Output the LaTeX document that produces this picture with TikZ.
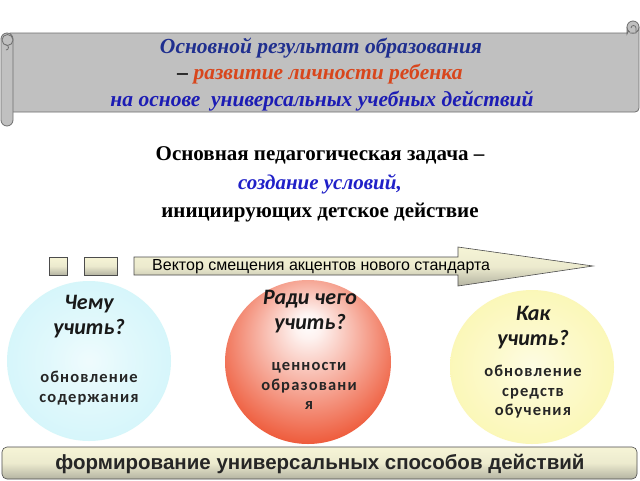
\documentclass[tikz,border=0pt]{standalone}
\usepackage{fontspec}
\setmainfont{Liberation Serif}
\setsansfont{Liberation Sans}
\newfontfamily\carl{Carlito}
\newfontfamily\carlsp[LetterSpace=7]{Carlito}
\usetikzlibrary{shapes.geometric}
\definecolor{scrollgray}{HTML}{C0C0C0}
\definecolor{scrollline}{HTML}{6E6E6E}
\definecolor{titleblue}{HTML}{1F2F8F}
\definecolor{titlered}{HTML}{D8461C}
\definecolor{titleblue2}{HTML}{1C1CB4}
\definecolor{taskblue}{HTML}{2020C8}
\definecolor{beigetop}{HTML}{F6F4D6}
\definecolor{beigebot}{HTML}{B4B4A2}
\definecolor{cyanedge}{HTML}{C9F3F9}
\definecolor{rededge}{HTML}{EE5A3A}
\definecolor{yellowedge}{HTML}{FAF5A2}
\pgfdeclareradialshading{cyanball}{\pgfpoint{0bp}{0bp}}{color(0bp)=(white!70!cyanedge); color(12bp)=(white!45!cyanedge); color(40bp)=(cyanedge); color(50bp)=(cyanedge)}
\pgfdeclareradialshading{redball}{\pgfpoint{0bp}{12bp}}{color(0bp)=(white); color(4bp)=(white!92!rededge); color(30bp)=(rededge); color(50bp)=(rededge!95!black)}
\pgfdeclareradialshading{yellowball}{\pgfpoint{0bp}{0bp}}{color(0bp)=(white!70!yellowedge); color(12bp)=(white!45!yellowedge); color(40bp)=(yellowedge); color(50bp)=(yellowedge)}
\tikzset{
  scrollpart/.style={fill=scrollgray, draw=scrollline, line width=0.8pt},
  beigebox/.style={draw=black!70, line width=0.6pt, top color=beigetop, bottom color=beigebot, middle color=beigetop!85!beigebot},
  titletext/.style={font=\bfseries\itshape\fontsize{21.5}{24}\selectfont, inner sep=0pt},
  tasktext/.style={font=\bfseries\fontsize{21}{24}\selectfont, inner sep=0pt},
  qtext/.style={font=\carl\bfseries\itshape\fontsize{22}{25}\selectfont, align=center, inner sep=0pt, text=black!90},
  atext/.style={font=\carlsp\bfseries\fontsize{16.5}{19.5}\selectfont, align=center, inner sep=0pt, text=black!85},
}
\begin{document}
\begin{tikzpicture}[x=1pt,y=-1pt]
\useasboundingbox[fill=white] (0,0) rectangle (640,480);
% scroll
\draw[scrollpart] (10,33) -- (627,33) arc[start angle=180, end angle=270, radius=1] -- (627,34)
  -- (627,27) arc[start angle=180, end angle=0, radius=6] -- (639,108) arc[start angle=0, end angle=90, radius=4] -- (10,112) -- cycle;
\draw[scrollpart] (633,27) circle (6);
\draw[scrollpart] (630,33) -- (636,33) -- (636,28) arc[start angle=0, end angle=-180, radius=2.5];
\draw[scrollpart, rounded corners=6pt] (1,33) rectangle (13,126);
\draw[scrollpart] (7.5,40) circle (5.5);
\draw[scrollpart] (6,45) arc[start angle=-90, end angle=90, radius=2.5];
\node[titletext, text=titleblue] (t1) at (321,48) {Основной результат образования};
\node[titletext] (t2) at (320,74) {– \textcolor{titlered}{развитие личности ребенка}};
\node[titletext, text=titleblue2] (t3) at (322,101) {на основе\ \ универсальных учебных действий};
% task
\node[tasktext] (k1) at (320,155) {Основная педагогическая задача –};
\node[tasktext, font=\bfseries\itshape\fontsize{21}{24}\selectfont, text=taskblue] (k2) at (320,184) {создание условий,};
\node[tasktext] (k3) at (320,213) {инициирующих детское действие};
% arrow
\draw[beigebox] (49,257) rectangle (67,275);
\draw[beigebox] (84,257) rectangle (117,275);
\draw[beigebox] (134,257) -- (458,257) -- (458,247) -- (593,266) -- (458,286) -- (458,275) -- (134,275) -- cycle;
\node[font=\sffamily\fontsize{16}{18}\selectfont, inner sep=0pt, anchor=west] (vec) at (152,267) {Вектор смещения акцентов нового стандарта};
% ellipses
\shade[shading=cyanball] (89,361) ellipse (82 and 80);
\shade[shading=redball] (308,362) ellipse (83 and 82);
\shade[shading=yellowball] (532,367) ellipse (82 and 77);
\node[qtext] (q1) at (89,317) {Чему\\учить?};
\node[atext] (a1) at (89,388) {обновление\\содержания};
\node[qtext] (q2) at (310,312) {Ради чего\\учить?};
\node[atext] (a2) at (309,386) {ценности\\образовани\\я};
\node[qtext] (q3) at (533,328) {Как\\учить?};
\node[atext] (a3) at (533,392) {обновление\\средств\\обучения};
% bottom bar
\draw[beigebox, rounded corners=5pt] (2,447) rectangle (637,479);
\node[font=\sffamily\bfseries\fontsize{20.5}{22}\selectfont, inner sep=0pt, text=black!85] (bot) at (320,464) {формирование универсальных способов действий};
\end{tikzpicture}
\end{document}
